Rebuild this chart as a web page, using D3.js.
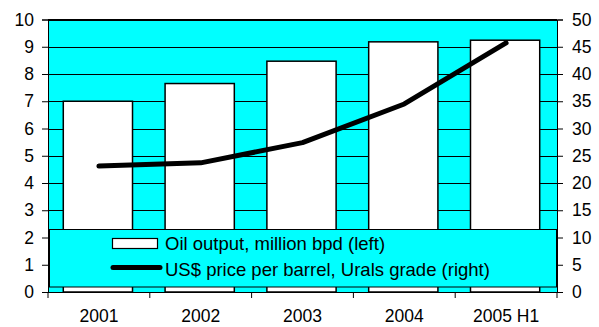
<!DOCTYPE html>
<html><head><meta charset="utf-8">
<script src="https://cdn.jsdelivr.net/npm/d3@7/dist/d3.min.js"></script>
<style>html,body{margin:0;padding:0;background:#fff;}svg{display:block;font-family:"Liberation Sans",Arial,sans-serif;}</style>
</head><body>
<script>
const categories = ["2001","2002","2003","2004","2005 H1"];
const oilOutput = [7.0, 7.65, 8.47, 9.18, 9.24];
const uralsPrice = [23.1, 23.7, 27.4, 34.5, 45.7];
const leftTicks = [0,1,2,3,4,5,6,7,8,9,10];
const rightTicks = [0,5,10,15,20,25,30,35,40,45,50];
const legendLabels = ["Oil output, million bpd (left)", "US$ price per barrel, Urals grade (right)"];

const W = 599, H = 327;
const L = 48, R = 557, T = 19.5, B = 292;
const svg = d3.select("body").append("svg").attr("width", W).attr("height", H);

const x = d3.scaleBand().domain(categories).range([L, R]).padding(0);
const yL = d3.scaleLinear().domain([0,10]).range([B, T]);
const yR = d3.scaleLinear().domain([0,50]).range([B, T]);

// plot background
svg.append("rect").attr("x", L).attr("y", T).attr("width", R-L).attr("height", B-T).attr("fill", "#00FFFF");

// gridlines
svg.append("g").selectAll("line").data(leftTicks.filter(d=>d>0)).join("line")
  .attr("x1", L).attr("x2", R).attr("y1", d=>Math.round(yL(d))+0.5).attr("y2", d=>Math.round(yL(d))+0.5)
  .attr("stroke", "#000").attr("stroke-width", 1);

// bars
const bw = x.bandwidth()*0.68;
svg.append("g").selectAll("rect").data(oilOutput).join("rect")
  .attr("x", (d,i)=>x(categories[i]) + x.bandwidth()/2 - bw/2 - 1)
  .attr("y", d=>yL(d))
  .attr("width", bw)
  .attr("height", d=>B - yL(d))
  .attr("fill", "#fff").attr("stroke", "#000").attr("stroke-width", 1.5);

// line
const line = d3.line().x((d,i)=>x(categories[i]) + x.bandwidth()/2).y(d=>yR(d));
svg.append("path").datum(uralsPrice).attr("d", line)
  .attr("fill", "none").attr("stroke", "#000").attr("stroke-width", 5)
  .attr("stroke-linecap", "round").attr("stroke-linejoin", "round");

// axes
const fs = "17.5px";
const gl = svg.append("g").attr("transform", `translate(${L},0)`)
  .call(d3.axisLeft(yL).tickValues(leftTicks).tickSize(6).tickPadding(8).tickFormat(d3.format("d")));
const gr = svg.append("g").attr("transform", `translate(${R},0)`)
  .call(d3.axisRight(yR).tickValues(rightTicks).tickSize(6).tickPadding(9).tickFormat(d3.format("d")));
const gb = svg.append("g").attr("transform", `translate(0,${B})`)
  .call(d3.axisBottom(x).tickSize(0).tickPadding(18));
[gl,gr,gb].forEach(g=>{
  g.selectAll("text").attr("font-size", fs).attr("fill", "#000").attr("font-family", '"Liberation Sans",Arial,sans-serif');
  g.selectAll("line").attr("stroke", "#000");
  g.select(".domain").attr("stroke", "#000");
});
gb.select(".domain").remove();
// category boundary ticks
const bounds = categories.map(c=>x(c)).concat([R]);
svg.append("g").selectAll("line").data(bounds).join("line")
  .attr("x1", d=>d).attr("x2", d=>d).attr("y1", B).attr("y2", B+6)
  .attr("stroke", "#000");
svg.append("line").attr("x1", L).attr("x2", R).attr("y1", B+0.5).attr("y2", B+0.5).attr("stroke", "#000");
// top border
svg.append("line").attr("x1", L).attr("x2", R).attr("y1", T).attr("y2", T).attr("stroke", "#000");

// legend
const lg = svg.append("g");
lg.append("rect").attr("x", 49.5).attr("y", 229.5).attr("width", 507).attr("height", 57.5)
  .attr("fill", "#00FFFF").attr("stroke", "#000").attr("stroke-width", 1);
lg.append("rect").attr("x", 112.5).attr("y", 238.5).attr("width", 45).attr("height", 10)
  .attr("fill", "#fff").attr("stroke", "#000").attr("stroke-width", 1.2);
lg.append("line").attr("x1", 113).attr("x2", 160).attr("y1", 267.5).attr("y2", 267.5)
  .attr("stroke", "#000").attr("stroke-width", 5).attr("stroke-linecap", "round");
lg.selectAll("text").data(legendLabels).join("text")
  .attr("x", 165).attr("y", (d,i)=> i===0 ? 249.5 : 276)
  .attr("font-size", "18.5px").attr("fill", "#000").text(d=>d);
</script>
</body></html>
